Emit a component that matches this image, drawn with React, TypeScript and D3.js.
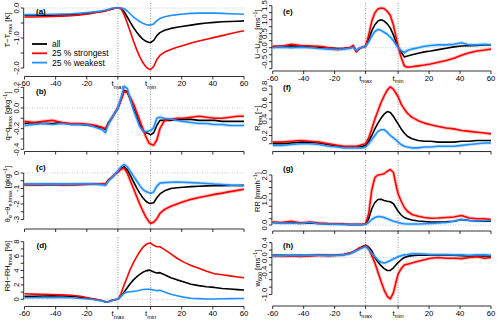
import React from 'react';
import * as d3 from 'd3';

// composite time axis: tmax = 0, tmin = 21, then tmin + t
const X = [-60,-54,-48,-42,-36,-30,-24,-18,-14,-10,-8,-6,-4,-2,0,2,4,6,8,10,12,14,16,18,20,21,23,25,27,30,34,38,42,47,52,57,62,67,72,77,81];
const X_TICKS = [-60,-40,-20,0,21,41,61,81];
const X_TICK_LABELS = ['-60','-40','-20','tmax','tmin','20','40','60'];

// (a) T - Tmax
const T_all = [-0.25,-0.25,-0.24,-0.24,-0.23,-0.22,-0.20,-0.17,-0.14,-0.11,
 -0.09,-0.06,-0.03,-0.01,0.0,-0.01,-0.12,-0.30,-0.48,-0.65,
 -0.80,-0.93,-1.04,-1.11,-1.15,-1.15,-1.08,-0.92,-0.82,-0.74,
 -0.68,-0.64,-0.61,-0.57,-0.53,-0.50,-0.48,-0.46,-0.45,-0.44,-0.43];
const T_strong = [-0.30,-0.30,-0.29,-0.28,-0.27,-0.26,-0.23,-0.19,-0.15,-0.12,
 -0.10,-0.07,-0.04,-0.01,0.0,-0.03,-0.22,-0.50,-0.80,-1.10,
 -1.38,-1.62,-1.82,-1.96,-2.04,-2.05,-1.95,-1.72,-1.58,-1.47,
 -1.38,-1.31,-1.25,-1.17,-1.10,-1.04,-0.98,-0.92,-0.86,-0.80,-0.76];
const T_weak = [-0.22,-0.22,-0.21,-0.21,-0.20,-0.19,-0.17,-0.14,-0.12,-0.09,
 -0.07,-0.04,-0.01,0.0,0.0,0.0,-0.02,-0.10,-0.20,-0.30,
 -0.38,-0.45,-0.51,-0.55,-0.57,-0.57,-0.53,-0.42,-0.35,-0.29,
 -0.25,-0.22,-0.20,-0.18,-0.17,-0.17,-0.17,-0.18,-0.19,-0.20,-0.21];

// (b) q - q_tmax
const Q_all = [-0.15,-0.14,-0.15,-0.15,-0.14,-0.16,-0.16,-0.17,-0.18,-0.19,
 -0.21,-0.14,-0.10,-0.05,0.0,0.08,0.17,0.16,0.08,0.0,
 -0.08,-0.16,-0.22,-0.24,-0.25,-0.26,-0.24,-0.17,-0.12,-0.12,
 -0.12,-0.11,-0.11,-0.11,-0.12,-0.12,-0.12,-0.13,-0.13,-0.13,-0.13];
const Q_strong = [-0.13,-0.14,-0.13,-0.12,-0.14,-0.15,-0.15,-0.16,-0.17,-0.19,
 -0.20,-0.15,-0.10,-0.05,0.0,0.08,0.16,0.15,0.10,0.04,
 -0.04,-0.12,-0.20,-0.28,-0.34,-0.35,-0.36,-0.31,-0.20,-0.12,
 -0.11,-0.10,-0.10,-0.09,-0.08,-0.09,-0.10,-0.10,-0.09,-0.08,-0.08];
const Q_weak = [-0.17,-0.16,-0.15,-0.16,-0.15,-0.16,-0.16,-0.17,-0.19,-0.21,
 -0.24,-0.15,-0.10,-0.05,0.0,0.10,0.21,0.19,0.08,-0.02,
 -0.10,-0.18,-0.22,-0.23,-0.22,-0.22,-0.19,-0.10,-0.09,-0.10,
 -0.11,-0.12,-0.13,-0.14,-0.15,-0.15,-0.16,-0.16,-0.17,-0.17,-0.17];

// (c) theta_e
const TH_all = [-0.75,-0.75,-0.74,-0.75,-0.74,-0.75,-0.74,-0.73,-0.72,-0.72,
 -0.75,-0.45,-0.30,-0.10,0.10,0.30,0.40,0.20,-0.15,-0.55,
 -0.95,-1.30,-1.60,-1.82,-1.95,-1.96,-1.92,-1.60,-1.35,-1.15,
 -1.00,-0.95,-0.92,-0.88,-0.85,-0.83,-0.82,-0.82,-0.81,-0.81,-0.80];
const TH_strong = [-0.75,-0.74,-0.76,-0.73,-0.77,-0.75,-0.74,-0.72,-0.72,-0.70,
 -0.72,-0.45,-0.30,-0.10,0.05,0.25,0.32,0.00,-0.50,-1.00,
 -1.50,-2.00,-2.45,-2.85,-3.15,-3.25,-3.18,-2.95,-2.60,-2.35,
 -2.15,-2.00,-1.85,-1.70,-1.58,-1.48,-1.38,-1.30,-1.20,-1.12,-1.05];
const TH_weak = [-0.72,-0.72,-0.70,-0.72,-0.70,-0.72,-0.70,-0.70,-0.72,-0.75,
 -0.80,-0.50,-0.30,-0.10,0.15,0.40,0.55,0.40,0.10,-0.20,
 -0.50,-0.80,-1.05,-1.20,-1.28,-1.30,-1.22,-0.85,-0.65,-0.62,
 -0.60,-0.58,-0.60,-0.62,-0.65,-0.68,-0.72,-0.74,-0.78,-0.80,-0.82];

// (d) RH
const RH_all = [0.40,0.42,0.45,0.47,0.45,0.42,0.30,0.10,-0.05,-0.20,
 -0.35,-0.30,-0.15,-0.05,0.0,0.40,1.00,1.60,2.20,2.70,
 3.10,3.45,3.75,3.95,4.05,4.00,3.80,3.65,3.70,3.40,
 3.00,2.70,2.45,2.10,1.90,1.75,1.65,1.50,1.42,1.35,1.30];
const RH_strong = [0.78,0.72,0.68,0.66,0.62,0.57,0.42,0.15,0.00,-0.20,
 -0.40,-0.35,-0.20,-0.05,0.0,0.80,2.00,3.10,4.20,5.10,
 5.90,6.60,7.20,7.60,7.80,7.80,7.50,7.30,7.30,6.90,
 6.30,5.70,5.20,4.70,4.30,3.90,3.55,3.40,3.25,3.10,3.00];
const RH_weak = [0.22,0.22,0.24,0.22,0.24,0.22,0.12,0.00,-0.10,-0.25,
 -0.40,-0.35,-0.20,-0.05,0.0,0.40,0.85,1.00,1.05,1.10,
 1.15,1.25,1.35,1.40,1.40,1.38,1.30,1.20,1.25,1.00,
 0.70,0.50,0.30,0.15,0.10,0.05,0.05,0.08,0.10,0.12,0.12];

// (e) U
const U_all = [0.03,0.05,0.07,0.04,0.05,0.02,0.00,-0.03,-0.02,0.00,
 0.05,-0.12,-0.03,0.02,0.05,0.30,0.60,0.82,0.95,1.00,
 0.95,0.85,0.70,0.45,0.15,0.02,-0.15,-0.33,-0.30,-0.25,
 -0.20,-0.15,-0.12,-0.07,-0.02,0.03,0.06,0.07,0.08,0.10,0.10];
const U_strong = [0.05,0.05,0.12,0.08,0.06,0.05,0.00,-0.05,-0.03,0.00,
 0.08,-0.15,-0.03,0.02,0.05,0.45,0.95,1.25,1.38,1.42,
 1.40,1.30,1.15,0.80,0.30,0.05,-0.35,-0.65,-0.70,-0.68,
 -0.65,-0.62,-0.58,-0.52,-0.46,-0.38,-0.27,-0.18,-0.12,-0.08,-0.05];
const U_weak = [0.00,0.02,0.00,0.02,0.00,-0.03,-0.05,-0.07,-0.05,-0.02,
 0.02,-0.10,-0.02,0.02,0.05,0.20,0.42,0.58,0.65,0.62,
 0.55,0.48,0.38,0.25,0.08,0.00,-0.10,-0.18,-0.10,-0.05,
 0.00,0.05,0.08,0.10,0.10,0.12,0.18,0.10,0.10,0.12,0.10];

// (f) R_freq
const RF_all = [0.10,0.10,0.11,0.12,0.12,0.11,0.09,0.07,0.06,0.06,
 0.06,0.06,0.06,0.07,0.08,0.13,0.20,0.28,0.35,0.41,
 0.46,0.49,0.48,0.43,0.37,0.34,0.28,0.23,0.19,0.16,
 0.14,0.13,0.13,0.12,0.12,0.12,0.13,0.13,0.14,0.14,0.14];
const RF_strong = [0.12,0.12,0.13,0.14,0.13,0.12,0.10,0.08,0.07,0.07,
 0.07,0.07,0.08,0.09,0.10,0.17,0.28,0.40,0.50,0.60,
 0.68,0.75,0.79,0.76,0.70,0.67,0.58,0.52,0.47,0.42,
 0.38,0.35,0.33,0.31,0.29,0.28,0.26,0.25,0.24,0.23,0.22];
const RF_weak = [0.08,0.08,0.09,0.10,0.10,0.09,0.07,0.06,0.05,0.05,
 0.05,0.05,0.05,0.05,0.06,0.10,0.15,0.20,0.25,0.27,
 0.27,0.24,0.20,0.17,0.14,0.12,0.09,0.07,0.06,0.05,
 0.05,0.06,0.06,0.07,0.07,0.07,0.08,0.09,0.10,0.11,0.11];

// (g) RR
const RR_all = [0.10,0.08,0.10,0.07,0.08,0.06,0.05,0.04,0.03,0.02,
 0.02,0.02,0.02,0.02,0.04,0.25,0.65,0.90,1.02,1.03,
 0.98,0.95,0.93,0.85,0.65,0.55,0.40,0.30,0.25,0.20,
 0.16,0.14,0.12,0.12,0.13,0.15,0.22,0.18,0.16,0.15,0.15];
const RR_strong = [0.12,0.10,0.15,0.08,0.12,0.08,0.06,0.05,0.03,0.02,
 0.02,0.02,0.02,0.03,0.05,0.45,1.40,1.90,2.00,2.02,
 2.05,2.15,2.22,2.10,1.50,1.25,0.95,0.70,0.55,0.42,
 0.35,0.30,0.27,0.28,0.30,0.32,0.38,0.28,0.25,0.25,0.22];
const RR_weak = [0.10,0.07,0.08,0.06,0.10,0.05,0.04,0.03,0.02,0.02,
 0.02,0.02,0.02,0.02,0.03,0.10,0.22,0.30,0.34,0.33,
 0.30,0.25,0.20,0.15,0.12,0.10,0.07,0.05,0.04,0.04,
 0.04,0.05,0.06,0.08,0.10,0.15,0.22,0.18,0.16,0.17,0.18];

// (h) w600
const W_all = [0.06,0.06,0.05,0.06,0.05,0.06,0.06,0.06,0.08,0.12,
 0.15,0.20,0.25,0.29,0.33,0.28,0.18,0.00,-0.12,-0.22,
 -0.30,-0.35,-0.35,-0.28,-0.18,-0.14,-0.06,0.00,0.03,0.05,
 0.06,0.06,0.07,0.07,0.07,0.06,0.05,0.04,0.04,0.04,0.04];
const W_strong = [0.05,0.04,0.05,0.03,0.05,0.06,0.05,0.06,0.08,0.12,
 0.15,0.20,0.25,0.28,0.32,0.25,0.05,-0.15,-0.40,-0.65,
 -0.88,-1.05,-1.12,-0.95,-0.60,-0.45,-0.30,-0.20,-0.18,-0.15,
 -0.10,-0.06,-0.02,0.00,-0.02,-0.02,-0.03,0.00,0.02,-0.02,0.00];
const W_weak = [0.05,0.05,0.06,0.05,0.06,0.06,0.05,0.06,0.07,0.10,
 0.14,0.18,0.22,0.26,0.30,0.22,0.12,0.02,-0.07,-0.13,
 -0.15,-0.12,-0.08,-0.04,0.00,0.02,0.05,0.07,0.08,0.10,
 0.10,0.09,0.08,0.08,0.08,0.07,0.07,0.06,0.07,0.07,0.06];

const LEGEND = ['all', '25 % strongest', '25 % weakest'];
const COLORS = ['#000000', '#ff0000', '#1e90ff'];

const FONT = "'Liberation Sans', Arial, Helvetica, sans-serif";

type Seg = { t: string; s?: 'sub' | 'sup' };

type Panel = {
  tag: string;
  side: 'L' | 'R';
  yDom: [number, number];
  yRng: [number, number];
  axisY: number;
  top: number;
  yTicks: number[];
  yLabels: number[];
  dec: number;
  xLabels: boolean;
  title: Seg[];
  titleY: number;
  tagPos: [number, number];
  series: number[][];
  halo: boolean;
};

const range = (a: number, b: number, s: number) => d3.range(Math.round((b - a) / s) + 1).map(i => +(a + i * s).toFixed(3));

const PANELS: Panel[] = [
  { tag: '(a)', side: 'L', yDom: [0, -2], yRng: [8, 68], axisY: 76.5, top: 3,
    yTicks: range(-2, 0, 0.5), yLabels: [0, -1, -2], dec: 1, xLabels: true,
    title: [{ t: 'T−T' }, { t: 'max', s: 'sub' }, { t: ' [K]' }], titleY: 30, tagPos: [36, 14],
    series: [T_all, T_strong, T_weak], halo: false },
  { tag: '(b)', side: 'L', yDom: [0.2, -0.4], yRng: [87.3, 149.3], axisY: 151.5, top: 84,
    yTicks: range(-0.4, 0.2, 0.1), yLabels: [0.2, 0, -0.2, -0.4], dec: 1, xLabels: false,
    title: [{ t: 'q−q' }, { t: 'tmax', s: 'sub' }, { t: ' [gkg' }, { t: '−1', s: 'sup' }, { t: ']' }], titleY: 116, tagPos: [36, 93.5],
    series: [Q_all, Q_strong, Q_weak], halo: true },
  { tag: '(c)', side: 'L', yDom: [0, -3], yRng: [173, 219.5], axisY: 229, top: 160,
    yTicks: range(-3, 0, 0.5), yLabels: [0, -1, -2, -3], dec: 0, xLabels: false,
    title: [{ t: 'θ' }, { t: 'e', s: 'sub' }, { t: '−θ' }, { t: 'e,tmax', s: 'sub' }, { t: ' [gkg' }, { t: '−1', s: 'sup' }, { t: ']' }], titleY: 194, tagPos: [36, 170],
    series: [TH_all, TH_strong, TH_weak], halo: true },
  { tag: '(d)', side: 'L', yDom: [8, 0], yRng: [241.7, 299.3], axisY: 306.5, top: 237,
    yTicks: range(0, 8, 1), yLabels: [0, 2, 4, 6, 8], dec: 0, xLabels: true,
    title: [{ t: 'RH−RH' }, { t: 'tmax', s: 'sub' }, { t: ' [%]' }], titleY: 266, tagPos: [36.5, 247.5],
    series: [RH_all, RH_strong, RH_weak], halo: false },
  { tag: '(e)', side: 'R', yDom: [1.5, 0], yRng: [5.7, 47.7], axisY: 71, top: 3,
    yTicks: range(-0.75, 1.5, 0.25), yLabels: [-0.5, 0, 0.5, 1, 1.5], dec: 1, xLabels: true,
    title: [{ t: 'U−U' }, { t: 'tmax', s: 'sub' }, { t: ' [ms' }, { t: '−1', s: 'sup' }, { t: ']' }], titleY: 34, tagPos: [283, 14],
    series: [U_all, U_strong, U_weak], halo: true },
  { tag: '(f)', side: 'R', yDom: [0.8, 0], yRng: [86, 152], axisY: 151.5, top: 84,
    yTicks: range(0.1, 0.8, 0.1), yLabels: [0.2, 0.4, 0.6, 0.8], dec: 1, xLabels: false,
    title: [{ t: 'R' }, { t: 'freq', s: 'sub' }, { t: ' [−]' }], titleY: 118, tagPos: [283, 89.5],
    series: [RF_all, RF_strong, RF_weak], halo: true },
  { tag: '(g)', side: 'R', yDom: [2, 0], yRng: [175, 225], axisY: 231, top: 160,
    yTicks: range(0, 2, 0.25), yLabels: [0, 1, 2], dec: 1, xLabels: false,
    title: [{ t: 'RR [mmh' }, { t: '−1', s: 'sup' }, { t: ']' }], titleY: 192, tagPos: [283, 171],
    series: [RR_all, RR_strong, RR_weak], halo: true },
  { tag: '(h)', side: 'R', yDom: [0, -1], yRng: [257.5, 294.5], axisY: 306, top: 237,
    yTicks: range(-1, 0.4, 0.2), yLabels: [0.4, 0, -0.4, -1], dec: 1, xLabels: true,
    title: [{ t: 'w' }, { t: '600', s: 'sub' }, { t: ' [ms' }, { t: '−1', s: 'sup' }, { t: ']' }], titleY: 268, tagPos: [283, 247.5],
    series: [W_all, W_strong, W_weak], halo: true },
];

function rich(segs: Seg[], size: number) {
  let shift = 0;
  return segs.map((sg, i) => {
    const target = sg.s === 'sub' ? size * 0.3 : sg.s === 'sup' ? -size * 0.4 : 0;
    const dy = target - shift;
    shift = target;
    return (
      <tspan key={i} dy={dy} fontSize={sg.s ? size * 0.72 : size}>{sg.t}</tspan>
    );
  });
}

function PanelView({ p }: { p: Panel }) {
  const x = d3.scaleLinear().domain([-60, 81]).range(p.side === 'L' ? [24.5, 244] : [272.7, 491]);
  const y = d3.scaleLinear().domain(p.yDom).range(p.yRng);
  const axisX = x(-60) - 0.8;
  const line = d3.line<number>().x((_, i) => x(X[i])).y(d => y(d));
  const tMin = d3.min(p.yTicks)!;
  const tMax = d3.max(p.yTicks)!;
  const titleX = p.side === 'L' ? 10 : 260;
  const fmt = (v: number) => (v === 0 ? 0 : v).toFixed(p.dec);
  return (
    <g>
      <line x1={x(-60)} x2={x(81)} y1={y(0)} y2={y(0)} stroke="#bdbdbd" strokeWidth={0.8} strokeDasharray="1,1.5" />
      {[0, 21].map(v => (
        <line key={v} x1={x(v)} x2={x(v)} y1={p.top} y2={p.axisY} stroke="#808080" strokeWidth={0.8} strokeDasharray="1,1.5" />
      ))}
      {p.halo && [1, 2].map(k => (
        <path key={'h' + k} d={line(p.series[k]) || ''} fill="none" stroke={COLORS[k]} strokeOpacity={0.22} strokeWidth={3.6} strokeLinejoin="round" />
      ))}
      {p.series.map((s, k) => (
        <path key={k} d={line(s) || ''} fill="none" stroke={COLORS[k]} strokeWidth={1.6} strokeLinejoin="round" />
      ))}
      <line x1={axisX} x2={axisX} y1={y(tMin)} y2={y(tMax)} stroke="#000" strokeWidth={0.8} />
      {p.yTicks.map(v => (
        <line key={v} x1={axisX - 3} x2={axisX} y1={y(v)} y2={y(v)} stroke="#000" strokeWidth={0.8} />
      ))}
      {p.yLabels.map(v => (
        <text key={v} transform={`translate(${axisX - 5},${y(v)}) rotate(-90)`} textAnchor="middle" fontSize={7.8} fontFamily={FONT}>{fmt(v)}</text>
      ))}
      <text transform={`translate(${titleX},${p.titleY}) rotate(-90)`} textAnchor="middle" fontSize={7.5} fontFamily={FONT}>
        {rich(p.title, 7.5)}
      </text>
      <line x1={x(-60)} x2={x(81)} y1={p.axisY} y2={p.axisY} stroke="#000" strokeWidth={0.8} />
      {X_TICKS.map(v => (
        <line key={v} x1={x(v)} x2={x(v)} y1={p.axisY} y2={p.axisY + 3} stroke="#000" strokeWidth={0.8} />
      ))}
      {p.xLabels && X_TICK_LABELS.map((lab, i) => (
        <text key={lab} x={x(X_TICKS[i])} y={p.axisY + 9.8} textAnchor="middle" fontSize={7.8} fontFamily={FONT}>
          {lab.startsWith('t') ? rich([{ t: 't' }, { t: lab.slice(1), s: 'sub' }], 7.8) : lab}
        </text>
      ))}
      <text x={p.tagPos[0]} y={p.tagPos[1]} fontSize={8} fontWeight="bold" fontFamily={FONT}>{p.tag}</text>
    </g>
  );
}

export default function App() {
  return (
    <svg width={500} height={321} style={{ position: 'absolute', left: 0, top: 0, background: '#fff' }}>
      {PANELS.map(p => <PanelView key={p.tag} p={p} />)}
      <g>
        {LEGEND.map((lab, i) => (
          <g key={lab}>
            <line x1={32} x2={47} y1={44 + i * 9.3} y2={44 + i * 9.3} stroke={COLORS[i]} strokeWidth={1.8} />
            <text x={52} y={44 + i * 9.3 + 3} fontSize={8.5} fontFamily={FONT}>{lab}</text>
          </g>
        ))}
      </g>
    </svg>
  );
}
